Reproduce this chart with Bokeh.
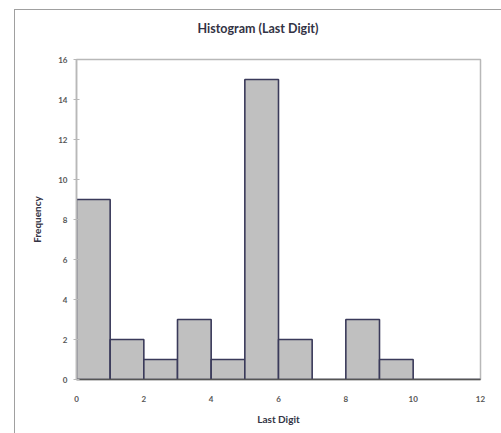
from bokeh.plotting import figure
from bokeh.models import Range1d, FixedTicker, Div
from bokeh.layouts import column
from bokeh.embed import file_html
from bokeh.resources import INLINE

bin_left = [0, 1, 2, 3, 4, 5, 6, 7, 8, 9, 10, 11]
bin_right = [1, 2, 3, 4, 5, 6, 7, 8, 9, 10, 11, 12]
frequency = [9, 2, 1, 3, 1, 15, 2, 0, 3, 1, 0, 0]
x_ticks = [0, 2, 4, 6, 8, 10, 12]
y_ticks = [0, 2, 4, 6, 8, 10, 12, 14, 16]
title_text = "Histogram (Last Digit)"

FONT = "Lato"

title_div = Div(text=title_text, width=486, height=37, margin=0,
                styles={"text-align": "center", "font-family": FONT, "font-weight": "bold",
                        "font-size": "12.5px", "color": "#333344", "padding-top": "11px",
                        "line-height": "15px", "box-sizing": "border-box", "width": "486px"})

p = figure(width=486, height=386, output_backend="svg", toolbar_location=None,
           x_range=Range1d(0, 12), y_range=Range1d(0, 16),
           min_border_left=61, min_border_right=21, min_border_top=12, min_border_bottom=54,
           margin=0)

p.quad(left=bin_left, right=bin_right, bottom=0, top=frequency,
       fill_color="#c0c0c0", line_color="#3a3a5a", line_width=1.6)

p.xgrid.visible = False
p.ygrid.visible = False
p.outline_line_color = "#b8b8b8"
p.outline_line_width = 1.5

p.xaxis.ticker = FixedTicker(ticks=x_ticks)
p.yaxis.ticker = FixedTicker(ticks=y_ticks)
for ax in (p.xaxis, p.yaxis):
    ax.major_label_text_font = FONT
    ax.major_label_text_font_size = "8px"
    ax.major_label_text_font_style = "bold"
    ax.major_label_text_color = "#555555"
    ax.axis_label_text_font = FONT
    ax.axis_label_text_font_size = "10px"
    ax.axis_label_text_font_style = "bold"
    ax.axis_label_text_color = "#333344"
    ax.minor_tick_line_color = None

p.xaxis.axis_label = "Last Digit"
p.xaxis.axis_line_color = "#555555"
p.xaxis.axis_line_width = 1.5
p.xaxis.major_tick_line_color = None
p.xaxis.major_label_standoff = 10
p.xaxis.axis_label_standoff = 8

p.yaxis.axis_label = "Frequency"
p.yaxis.axis_line_color = "#b8b8b8"
p.yaxis.axis_line_width = 1.5
p.yaxis.major_tick_line_color = "#b8b8b8"
p.yaxis.major_tick_in = 3
p.yaxis.major_tick_out = 3
p.yaxis.major_label_standoff = 6
p.yaxis.axis_label_standoff = 12

layout = column(title_div, p, spacing=0, margin=(9, 0, 0, 14),
                styles={"border-left": "1px solid #a0a0a0", "border-top": "1px solid #a0a0a0"})

open("out.html", "w").write(file_html(layout, INLINE))
